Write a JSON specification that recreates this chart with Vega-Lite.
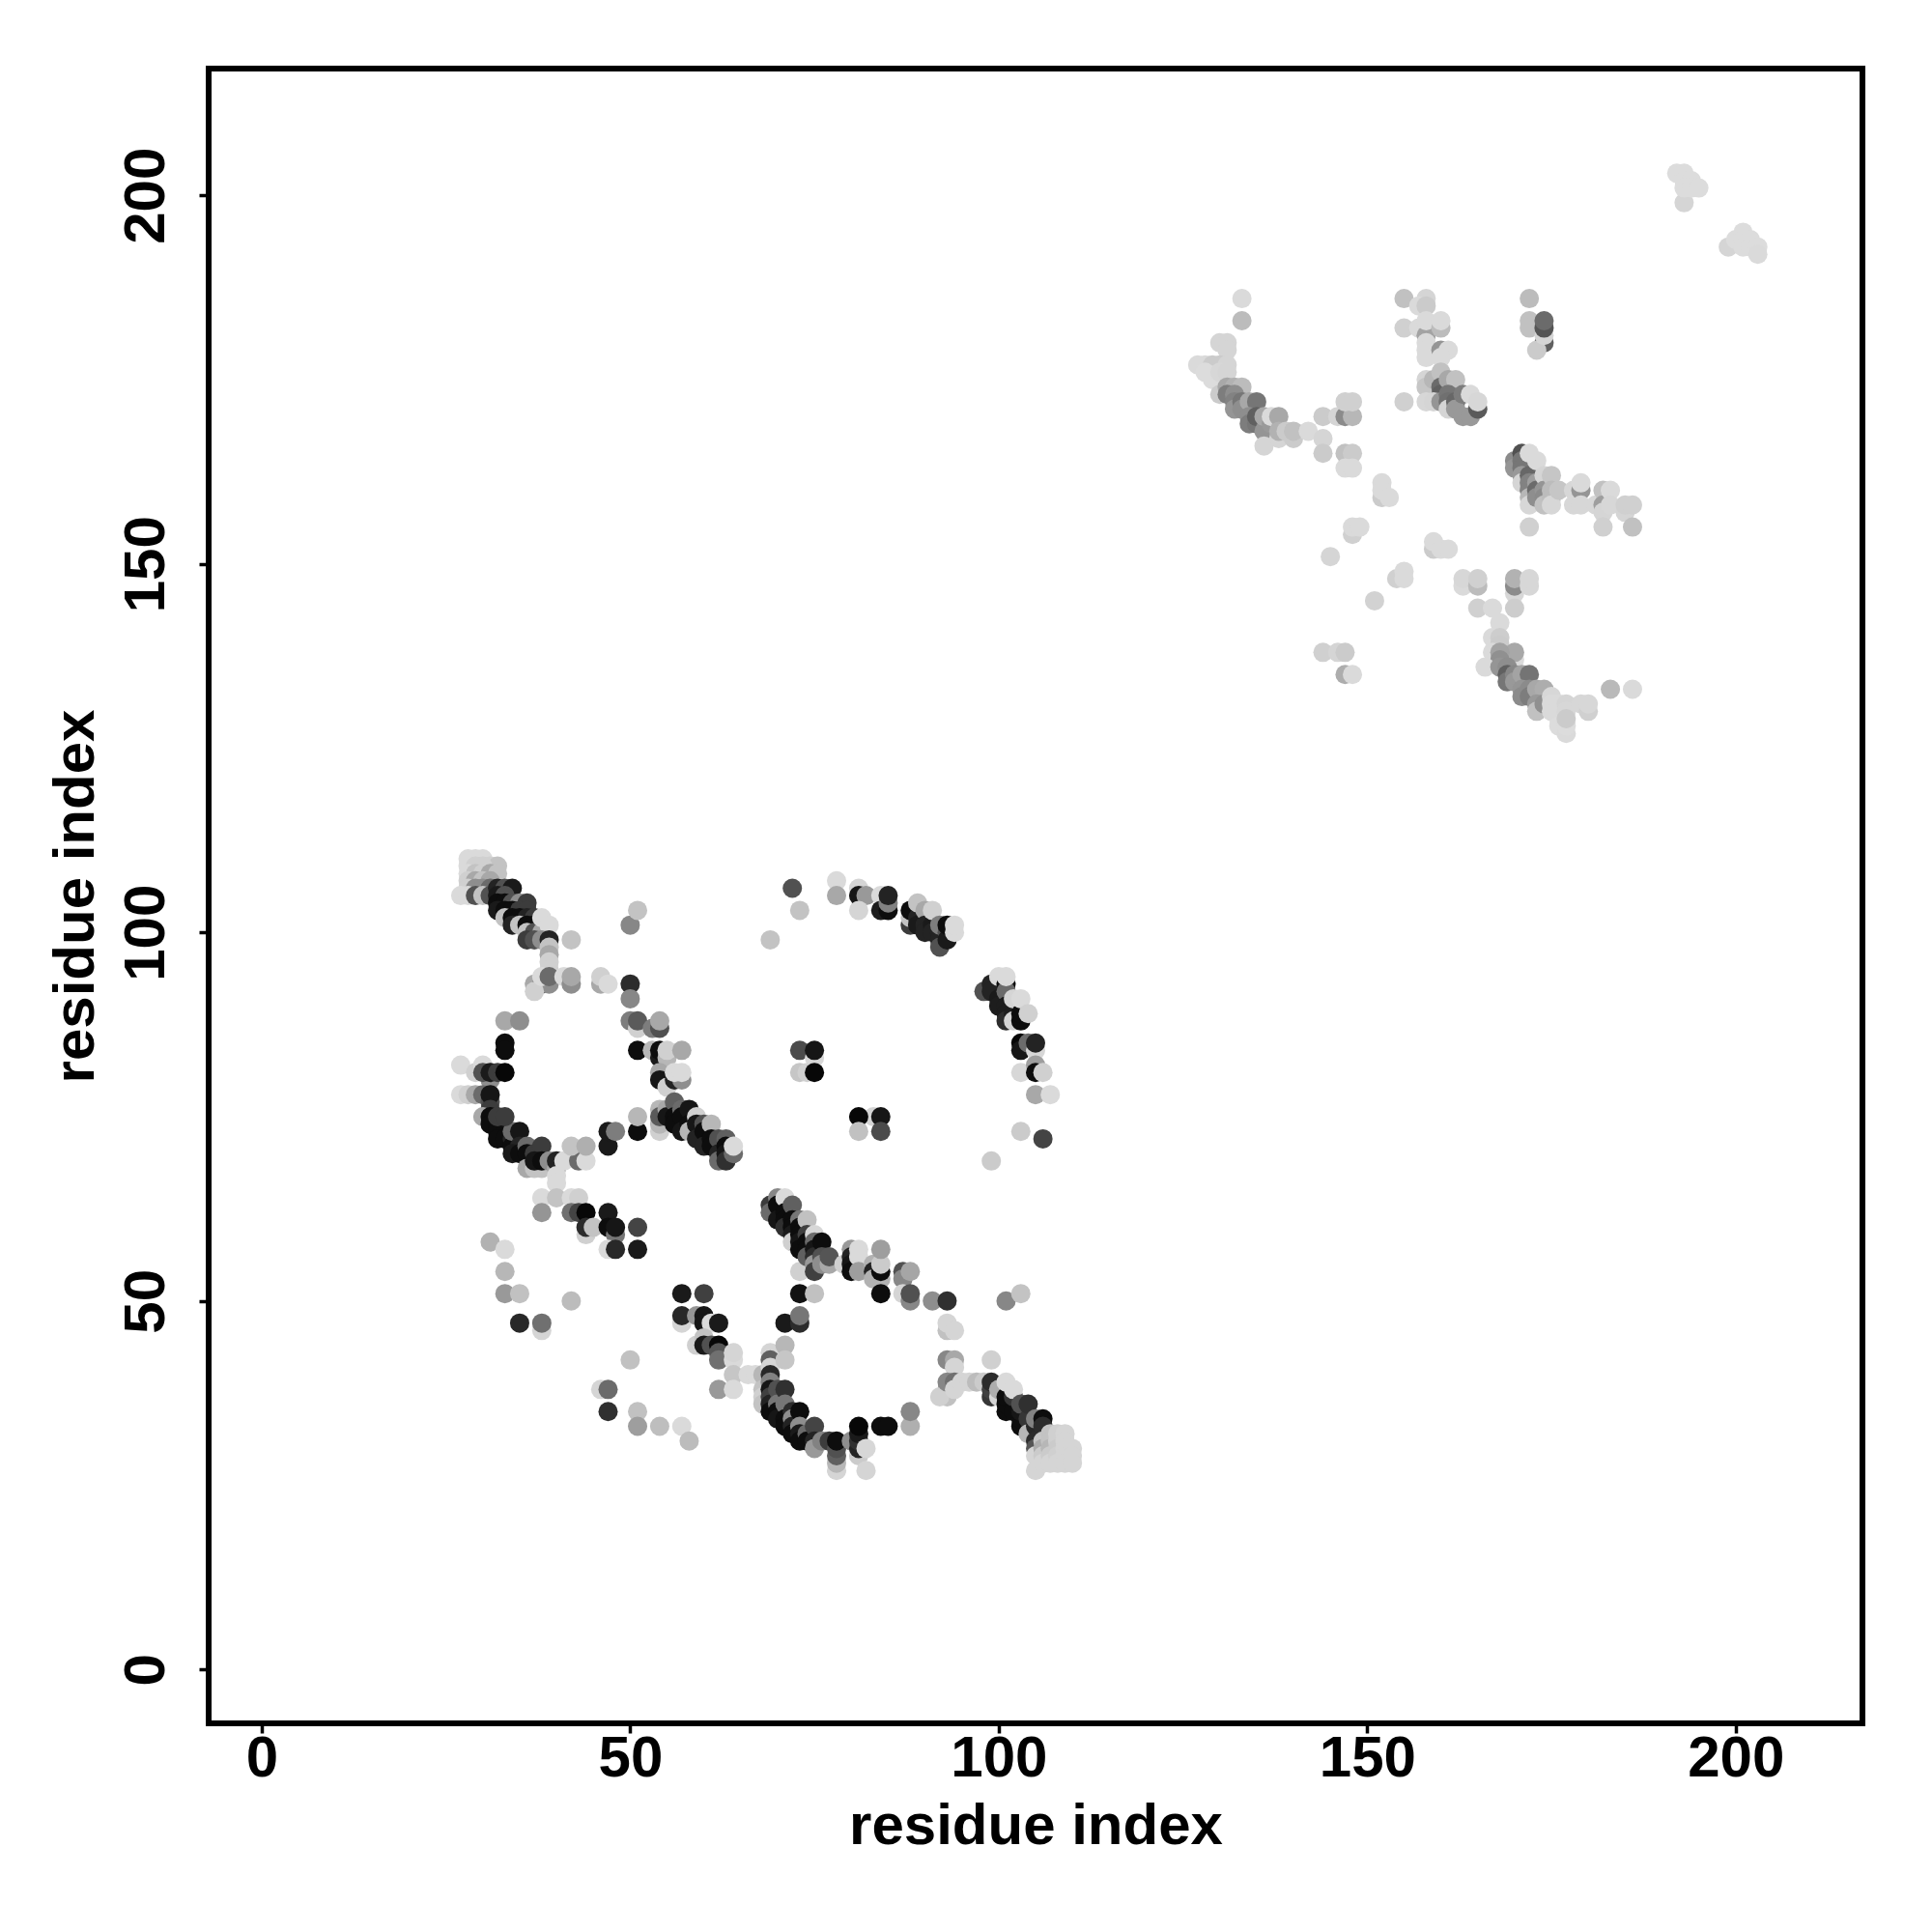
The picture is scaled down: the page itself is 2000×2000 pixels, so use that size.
{"$schema":"https://vega.github.io/schema/vega-lite/v6.json","width":1712,"height":1713,"autosize":{"type":"none"},"padding":{"left":216,"top":71,"right":72,"bottom":216},"background":"white","config":{"view":{"stroke":"black","strokeWidth":6,"fill":"white"}},"data":{"values":[
{"x":28,"y":110,"v":4},{"x":29,"y":110,"v":4},{"x":30,"y":110,"v":4},{"x":31,"y":109,"v":8},{"x":32,"y":109,"v":13},{"x":28,"y":109,"v":4},{"x":29,"y":109,"v":8},{"x":30,"y":109,"v":8},{"x":28,"y":108,"v":4},{"x":29,"y":108,"v":13},{"x":30,"y":108,"v":8},{"x":31,"y":108,"v":24},{"x":32,"y":108,"v":13},{"x":28,"y":107,"v":8},{"x":29,"y":107,"v":24},{"x":30,"y":107,"v":13},{"x":31,"y":107,"v":24},{"x":28,"y":106,"v":8},{"x":29,"y":106,"v":35},{"x":30,"y":106,"v":35},{"x":31,"y":106,"v":50},{"x":27,"y":105,"v":4},{"x":28,"y":105,"v":4},{"x":29,"y":105,"v":62},{"x":30,"y":105,"v":13},{"x":31,"y":105,"v":62},
{"x":32,"y":106,"v":85},{"x":33,"y":106,"v":62},{"x":34,"y":106,"v":90},{"x":32,"y":105,"v":90},{"x":33,"y":105,"v":62},{"x":32,"y":104,"v":96},{"x":33,"y":104,"v":96},{"x":34,"y":104,"v":62},{"x":35,"y":104,"v":35},{"x":36,"y":104,"v":72},{"x":32,"y":103,"v":90},{"x":33,"y":103,"v":96},{"x":34,"y":103,"v":96},{"x":35,"y":103,"v":72},{"x":36,"y":103,"v":72},{"x":33,"y":102,"v":13},{"x":34,"y":102,"v":96},{"x":35,"y":102,"v":96},{"x":36,"y":102,"v":85},{"x":37,"y":102,"v":72},{"x":34,"y":101,"v":85},{"x":35,"y":101,"v":13},{"x":36,"y":101,"v":96},{"x":37,"y":101,"v":96},{"x":36,"y":100,"v":13},{"x":37,"y":100,"v":62},{"x":38,"y":100,"v":24},{"x":38,"y":102,"v":4},{"x":39,"y":101,"v":4},{"x":36,"y":99,"v":72},{"x":37,"y":99,"v":62},{"x":38,"y":99,"v":35},{"x":39,"y":99,"v":85},{"x":42,"y":99,"v":13},{"x":39,"y":98,"v":13},{"x":39,"y":97,"v":24},{"x":39,"y":96,"v":8},{"x":39,"y":95,"v":8},{"x":37,"y":93,"v":24},{"x":38,"y":93,"v":50},{"x":39,"y":93,"v":35},{"x":37,"y":92,"v":8},{"x":38,"y":94,"v":4},{"x":39,"y":94,"v":50},{"x":41,"y":94,"v":4},{"x":42,"y":93,"v":35},{"x":42,"y":94,"v":24},{"x":46,"y":93,"v":24},{"x":46,"y":94,"v":8},{"x":47,"y":93,"v":4},
{"x":33,"y":88,"v":24},{"x":35,"y":88,"v":35},{"x":33,"y":85,"v":96},{"x":33,"y":84,"v":96},{"x":27,"y":82,"v":4},{"x":29,"y":81,"v":8},{"x":30,"y":82,"v":4},{"x":31,"y":80,"v":35},{"x":30,"y":81,"v":62},{"x":31,"y":81,"v":90},{"x":32,"y":81,"v":72},{"x":33,"y":81,"v":98},{"x":27,"y":78,"v":4},{"x":28,"y":78,"v":8},{"x":29,"y":78,"v":24},{"x":30,"y":78,"v":50},{"x":31,"y":77,"v":62},{"x":31,"y":78,"v":92},{"x":31,"y":76,"v":72},{"x":30,"y":75,"v":24},{"x":31,"y":75,"v":96},{"x":31,"y":74,"v":96},{"x":32,"y":74,"v":96},{"x":32,"y":73,"v":96},{"x":33,"y":73,"v":96},{"x":32,"y":72,"v":96},{"x":33,"y":72,"v":96},{"x":34,"y":72,"v":85},{"x":34,"y":71,"v":96},{"x":34,"y":73,"v":50},{"x":32,"y":75,"v":72},{"x":33,"y":75,"v":72},{"x":35,"y":73,"v":92},{"x":35,"y":71,"v":85},{"x":34,"y":70,"v":90},{"x":35,"y":70,"v":96},{"x":36,"y":71,"v":50},{"x":36,"y":70,"v":96},{"x":37,"y":70,"v":72},{"x":38,"y":71,"v":72},{"x":36,"y":68,"v":24},{"x":37,"y":68,"v":13},{"x":38,"y":68,"v":13},{"x":37,"y":69,"v":92},{"x":38,"y":69,"v":96},{"x":39,"y":69,"v":35},{"x":40,"y":68,"v":24},{"x":40,"y":69,"v":85},{"x":41,"y":69,"v":4},{"x":43,"y":69,"v":50},{"x":44,"y":69,"v":4},{"x":42,"y":71,"v":13},{"x":44,"y":71,"v":21},{"x":40,"y":67,"v":4},{"x":40,"y":66,"v":4},
{"x":47,"y":71,"v":90},{"x":47,"y":73,"v":90},{"x":48,"y":73,"v":42},{"x":51,"y":73,"v":96},{"x":51,"y":75,"v":18},{"x":54,"y":73,"v":8},
{"x":50,"y":93,"v":80},{"x":50,"y":91,"v":38},{"x":50,"y":101,"v":38},{"x":51,"y":103,"v":13},{"x":50,"y":88,"v":42},{"x":51,"y":87,"v":8},{"x":51,"y":88,"v":58},{"x":53,"y":87,"v":42},{"x":54,"y":87,"v":62},{"x":54,"y":88,"v":24},{"x":51,"y":84,"v":96},{"x":53,"y":84,"v":18},{"x":54,"y":83,"v":90},{"x":54,"y":84,"v":96},{"x":55,"y":83,"v":18},{"x":55,"y":84,"v":8},{"x":57,"y":84,"v":24},{"x":54,"y":81,"v":24},{"x":54,"y":80,"v":92},{"x":55,"y":79,"v":8},{"x":56,"y":80,"v":85},{"x":57,"y":80,"v":35},{"x":56,"y":81,"v":4},{"x":57,"y":81,"v":4},
{"x":54,"y":76,"v":18},{"x":54,"y":74,"v":18},{"x":54,"y":75,"v":58},{"x":55,"y":76,"v":24},{"x":55,"y":75,"v":92},{"x":56,"y":77,"v":55},{"x":56,"y":75,"v":96},{"x":56,"y":74,"v":96},{"x":57,"y":76,"v":50},{"x":57,"y":75,"v":96},{"x":57,"y":73,"v":92},{"x":58,"y":76,"v":92},{"x":58,"y":74,"v":96},{"x":58,"y":73,"v":18},{"x":59,"y":75,"v":8},{"x":59,"y":74,"v":92},{"x":59,"y":72,"v":85},{"x":60,"y":74,"v":62},{"x":60,"y":73,"v":96},{"x":60,"y":71,"v":85},{"x":61,"y":74,"v":18},{"x":61,"y":72,"v":96},{"x":61,"y":71,"v":96},{"x":62,"y":72,"v":62},{"x":62,"y":70,"v":85},{"x":62,"y":69,"v":50},{"x":63,"y":72,"v":55},{"x":63,"y":71,"v":96},{"x":63,"y":70,"v":92},{"x":63,"y":69,"v":78},{"x":64,"y":70,"v":50},{"x":64,"y":71,"v":4},
{"x":38,"y":64,"v":4},{"x":40,"y":64,"v":13},{"x":42,"y":64,"v":4},{"x":43,"y":64,"v":8},{"x":38,"y":62,"v":32},{"x":42,"y":62,"v":48},{"x":43,"y":62,"v":68},{"x":44,"y":62,"v":98},{"x":47,"y":62,"v":90},{"x":44,"y":59,"v":8},{"x":44,"y":60,"v":80},{"x":45,"y":60,"v":13},{"x":47,"y":60,"v":96},{"x":48,"y":59,"v":45},{"x":48,"y":60,"v":92},{"x":51,"y":60,"v":68},{"x":47,"y":57,"v":4},{"x":48,"y":57,"v":82},{"x":51,"y":57,"v":90},{"x":31,"y":58,"v":20},{"x":33,"y":57,"v":4},{"x":33,"y":54,"v":18},{"x":33,"y":51,"v":30},{"x":35,"y":51,"v":14},{"x":42,"y":50,"v":16},{"x":35,"y":47,"v":82},{"x":38,"y":46,"v":6},{"x":38,"y":47,"v":48},{"x":50,"y":42,"v":14},{"x":46,"y":38,"v":6},{"x":47,"y":38,"v":50},{"x":47,"y":35,"v":78},{"x":51,"y":35,"v":14},{"x":51,"y":33,"v":28},{"x":54,"y":33,"v":15},{"x":57,"y":33,"v":4},{"x":58,"y":31,"v":16},
{"x":57,"y":51,"v":90},{"x":60,"y":51,"v":70},{"x":57,"y":47,"v":6},{"x":57,"y":48,"v":82},{"x":59,"y":48,"v":32},{"x":60,"y":48,"v":92},{"x":60,"y":47,"v":92},{"x":61,"y":47,"v":4},{"x":62,"y":47,"v":90},{"x":59,"y":44,"v":8},{"x":60,"y":45,"v":13},{"x":60,"y":44,"v":90},{"x":61,"y":44,"v":62},{"x":62,"y":44,"v":98},{"x":62,"y":43,"v":60},{"x":62,"y":42,"v":48},{"x":64,"y":42,"v":4},{"x":64,"y":43,"v":6},{"x":64,"y":40,"v":12},{"x":66,"y":40,"v":4},{"x":67,"y":40,"v":4},{"x":62,"y":38,"v":30},{"x":64,"y":38,"v":4},
{"x":68,"y":40,"v":18},{"x":68,"y":38,"v":13},{"x":68,"y":37,"v":8},{"x":68,"y":36,"v":13},{"x":69,"y":43,"v":6},{"x":69,"y":42,"v":55},{"x":69,"y":41,"v":6},{"x":69,"y":40,"v":82},{"x":69,"y":39,"v":40},{"x":69,"y":38,"v":92},{"x":69,"y":37,"v":70},{"x":69,"y":36,"v":85},{"x":69,"y":35,"v":96},{"x":70,"y":38,"v":62},{"x":70,"y":36,"v":45},{"x":70,"y":35,"v":96},{"x":70,"y":34,"v":92},{"x":71,"y":38,"v":78},{"x":71,"y":36,"v":45},{"x":71,"y":34,"v":96},{"x":71,"y":33,"v":96},{"x":72,"y":35,"v":80},{"x":72,"y":34,"v":35},{"x":72,"y":33,"v":85},{"x":72,"y":32,"v":96},{"x":73,"y":35,"v":96},{"x":73,"y":33,"v":35},{"x":73,"y":32,"v":90},{"x":73,"y":31,"v":96},{"x":74,"y":32,"v":50},{"x":74,"y":31,"v":96},{"x":75,"y":33,"v":68},{"x":75,"y":31,"v":85},{"x":75,"y":30,"v":30},{"x":76,"y":31,"v":40},{"x":77,"y":31,"v":72},{"x":78,"y":27,"v":6},{"x":78,"y":28,"v":18},{"x":78,"y":29,"v":55},{"x":78,"y":30,"v":62},{"x":78,"y":31,"v":96},{"x":80,"y":31,"v":35},{"x":81,"y":29,"v":10},{"x":81,"y":30,"v":85},{"x":81,"y":31,"v":78},{"x":81,"y":32,"v":90},{"x":81,"y":33,"v":98},{"x":82,"y":27,"v":6},{"x":82,"y":30,"v":5},{"x":84,"y":33,"v":96},{"x":85,"y":33,"v":96},{"x":88,"y":33,"v":21},{"x":88,"y":35,"v":38},
{"x":71,"y":44,"v":18},{"x":71,"y":42,"v":12},{"x":71,"y":47,"v":90},{"x":73,"y":47,"v":80},{"x":73,"y":48,"v":45},{"x":73,"y":51,"v":94},{"x":75,"y":51,"v":14},{"x":73,"y":54,"v":8},
{"x":69,"y":63,"v":72},{"x":69,"y":62,"v":50},{"x":70,"y":64,"v":38},{"x":70,"y":63,"v":96},{"x":71,"y":64,"v":4},{"x":70,"y":61,"v":92},{"x":71,"y":62,"v":96},{"x":71,"y":61,"v":96},{"x":71,"y":60,"v":78},{"x":72,"y":63,"v":55},{"x":72,"y":61,"v":96},{"x":72,"y":60,"v":96},{"x":72,"y":59,"v":90},{"x":72,"y":58,"v":8},{"x":73,"y":61,"v":45},{"x":73,"y":60,"v":96},{"x":73,"y":59,"v":96},{"x":73,"y":58,"v":92},{"x":73,"y":57,"v":96},{"x":74,"y":61,"v":14},{"x":74,"y":59,"v":70},{"x":74,"y":58,"v":96},{"x":74,"y":57,"v":96},{"x":74,"y":56,"v":55},{"x":75,"y":59,"v":5},{"x":75,"y":58,"v":50},{"x":75,"y":57,"v":92},{"x":75,"y":56,"v":80},{"x":75,"y":55,"v":30},{"x":75,"y":54,"v":70},{"x":76,"y":58,"v":96},{"x":76,"y":56,"v":62},{"x":76,"y":55,"v":35},{"x":77,"y":55,"v":24},{"x":77,"y":56,"v":60},{"x":79,"y":55,"v":8},
{"x":80,"y":57,"v":30},{"x":80,"y":56,"v":85},{"x":80,"y":55,"v":92},{"x":80,"y":54,"v":96},{"x":81,"y":57,"v":4},{"x":81,"y":56,"v":4},{"x":81,"y":54,"v":28},{"x":83,"y":55,"v":20},{"x":83,"y":54,"v":85},{"x":83,"y":53,"v":20},{"x":84,"y":53,"v":20},{"x":84,"y":54,"v":96},{"x":84,"y":55,"v":10},{"x":84,"y":57,"v":28},{"x":84,"y":51,"v":96},{"x":87,"y":54,"v":62},{"x":87,"y":53,"v":38},{"x":88,"y":54,"v":25},{"x":87,"y":51,"v":6},{"x":88,"y":50,"v":38},{"x":88,"y":51,"v":62},{"x":91,"y":50,"v":35},{"x":93,"y":50,"v":78},{"x":101,"y":50,"v":38},{"x":103,"y":51,"v":13},
{"x":93,"y":46,"v":14},{"x":93,"y":47,"v":6},{"x":94,"y":46,"v":6},{"x":93,"y":42,"v":38},{"x":94,"y":42,"v":24},{"x":94,"y":41,"v":6},{"x":93,"y":38,"v":30},{"x":93,"y":37,"v":14},{"x":92,"y":37,"v":8},{"x":93,"y":39,"v":38},{"x":94,"y":39,"v":48},{"x":94,"y":38,"v":6},{"x":95,"y":39,"v":6},{"x":96,"y":39,"v":6},{"x":97,"y":39,"v":16},{"x":98,"y":39,"v":10},{"x":99,"y":42,"v":8},{"x":99,"y":37,"v":75},{"x":99,"y":38,"v":70},{"x":99,"y":39,"v":80},{"x":100,"y":37,"v":6},{"x":100,"y":38,"v":22},{"x":101,"y":35,"v":96},{"x":101,"y":36,"v":96},{"x":101,"y":37,"v":96},{"x":101,"y":39,"v":4},{"x":102,"y":35,"v":96},{"x":102,"y":37,"v":75},{"x":102,"y":38,"v":4},{"x":103,"y":33,"v":96},{"x":103,"y":34,"v":96},{"x":103,"y":35,"v":92},{"x":103,"y":36,"v":62},{"x":104,"y":34,"v":75},{"x":104,"y":36,"v":78},{"x":104,"y":32,"v":18},{"x":105,"y":33,"v":82},{"x":105,"y":34,"v":40},{"x":105,"y":31,"v":80},{"x":105,"y":30,"v":60},{"x":105,"y":29,"v":6},{"x":105,"y":27,"v":6},{"x":106,"y":34,"v":96},{"x":106,"y":33,"v":80},
{"x":106,"y":31,"v":12},{"x":106,"y":30,"v":22},{"x":106,"y":29,"v":10},{"x":106,"y":28,"v":6},{"x":107,"y":32,"v":13},{"x":107,"y":31,"v":13},{"x":107,"y":30,"v":18},{"x":107,"y":29,"v":10},{"x":107,"y":28,"v":6},{"x":108,"y":32,"v":8},{"x":108,"y":31,"v":8},{"x":108,"y":30,"v":10},{"x":108,"y":29,"v":8},{"x":108,"y":28,"v":6},{"x":109,"y":32,"v":6},{"x":109,"y":31,"v":6},{"x":109,"y":30,"v":6},{"x":109,"y":29,"v":6},{"x":109,"y":28,"v":6},{"x":110,"y":30,"v":6},{"x":110,"y":29,"v":6},{"x":110,"y":28,"v":6},
{"x":72,"y":106,"v":62},{"x":73,"y":103,"v":13},{"x":69,"y":99,"v":13},{"x":78,"y":107,"v":4},{"x":78,"y":105,"v":24},{"x":81,"y":106,"v":6},{"x":81,"y":105,"v":92},{"x":82,"y":105,"v":30},{"x":81,"y":103,"v":6},{"x":84,"y":105,"v":4},{"x":84,"y":103,"v":88},{"x":85,"y":103,"v":96},{"x":85,"y":104,"v":40},{"x":85,"y":105,"v":85},{"x":88,"y":101,"v":72},{"x":88,"y":102,"v":13},{"x":88,"y":103,"v":96},{"x":89,"y":102,"v":85},{"x":89,"y":101,"v":90},{"x":89,"y":104,"v":13},{"x":90,"y":103,"v":24},{"x":90,"y":101,"v":85},{"x":90,"y":100,"v":85},{"x":91,"y":101,"v":90},{"x":91,"y":100,"v":85},{"x":91,"y":103,"v":8},{"x":92,"y":100,"v":85},{"x":92,"y":99,"v":85},{"x":92,"y":98,"v":62},{"x":92,"y":101,"v":42},{"x":93,"y":100,"v":62},{"x":93,"y":99,"v":90},{"x":93,"y":101,"v":96},{"x":94,"y":100,"v":4},{"x":94,"y":101,"v":4},
{"x":98,"y":92,"v":62},{"x":99,"y":93,"v":85},{"x":99,"y":92,"v":85},{"x":100,"y":91,"v":90},{"x":100,"y":90,"v":88},{"x":100,"y":94,"v":4},{"x":101,"y":93,"v":96},{"x":101,"y":92,"v":50},{"x":101,"y":90,"v":88},{"x":101,"y":89,"v":88},{"x":101,"y":88,"v":80},{"x":101,"y":94,"v":4},{"x":102,"y":90,"v":88},{"x":102,"y":89,"v":88},{"x":102,"y":88,"v":6},{"x":102,"y":91,"v":6},{"x":103,"y":88,"v":96},{"x":103,"y":89,"v":96},{"x":103,"y":91,"v":4},{"x":104,"y":89,"v":8},{"x":103,"y":85,"v":98},{"x":103,"y":84,"v":92},{"x":104,"y":85,"v":50},{"x":105,"y":84,"v":5},{"x":105,"y":85,"v":85},{"x":103,"y":81,"v":5},{"x":105,"y":82,"v":28},{"x":105,"y":81,"v":96},{"x":106,"y":81,"v":8},{"x":105,"y":78,"v":24},{"x":107,"y":78,"v":4},{"x":103,"y":73,"v":10},{"x":106,"y":72,"v":68},{"x":99,"y":69,"v":10},
{"x":73,"y":84,"v":65},{"x":75,"y":83,"v":5},{"x":75,"y":84,"v":92},{"x":73,"y":81,"v":12},{"x":74,"y":81,"v":8},{"x":75,"y":81,"v":98},{"x":83,"y":75,"v":6},{"x":81,"y":75,"v":98},{"x":84,"y":75,"v":92},{"x":81,"y":73,"v":14},{"x":84,"y":73,"v":65},
{"x":133,"y":186,"v":4},{"x":133,"y":183,"v":16},{"x":130,"y":180,"v":6},{"x":131,"y":180,"v":6},{"x":131,"y":179,"v":6},{"x":127,"y":177,"v":4},{"x":128,"y":177,"v":4},{"x":129,"y":177,"v":10},{"x":130,"y":177,"v":10},{"x":131,"y":177,"v":6},{"x":128,"y":176,"v":3},{"x":129,"y":175,"v":3},{"x":130,"y":176,"v":5},{"x":131,"y":176,"v":6},{"x":130,"y":173,"v":10},{"x":131,"y":174,"v":24},{"x":132,"y":174,"v":20},{"x":133,"y":174,"v":16},{"x":131,"y":173,"v":42},{"x":132,"y":173,"v":35},{"x":132,"y":172,"v":40},{"x":132,"y":171,"v":32},{"x":133,"y":172,"v":45},{"x":133,"y":171,"v":35},{"x":134,"y":172,"v":24},{"x":135,"y":172,"v":45},{"x":134,"y":170,"v":35},{"x":134,"y":169,"v":42},{"x":135,"y":169,"v":45},{"x":135,"y":170,"v":55},{"x":136,"y":168,"v":32},{"x":136,"y":170,"v":24},{"x":136,"y":166,"v":6},{"x":137,"y":169,"v":30},{"x":137,"y":170,"v":4},{"x":138,"y":170,"v":24},{"x":138,"y":167,"v":6},{"x":138,"y":168,"v":20},{"x":139,"y":168,"v":10},{"x":140,"y":167,"v":10},{"x":140,"y":168,"v":14},{"x":142,"y":168,"v":4},{"x":144,"y":167,"v":6},{"x":144,"y":170,"v":10},{"x":144,"y":165,"v":10},{"x":146,"y":170,"v":6},{"x":147,"y":170,"v":36},{"x":148,"y":170,"v":18},{"x":147,"y":172,"v":8},{"x":148,"y":172,"v":8},{"x":147,"y":165,"v":14},{"x":148,"y":165,"v":10},{"x":147,"y":163,"v":4},{"x":148,"y":163,"v":4},{"x":152,"y":161,"v":4},{"x":152,"y":159,"v":10},{"x":152,"y":160,"v":4},{"x":153,"y":159,"v":4},{"x":148,"y":154,"v":8},{"x":148,"y":155,"v":4},{"x":149,"y":155,"v":4},{"x":145,"y":151,"v":6},{"x":159,"y":152,"v":10},{"x":159,"y":153,"v":4},{"x":160,"y":152,"v":4},{"x":161,"y":152,"v":4},
{"x":155,"y":186,"v":14},{"x":158,"y":186,"v":6},{"x":157,"y":185,"v":4},{"x":158,"y":185,"v":10},{"x":155,"y":182,"v":8},{"x":157,"y":182,"v":4},{"x":158,"y":181,"v":26},{"x":158,"y":183,"v":4},{"x":160,"y":182,"v":16},{"x":160,"y":183,"v":4},{"x":158,"y":180,"v":4},{"x":158,"y":179,"v":4},{"x":158,"y":178,"v":4},{"x":160,"y":179,"v":32},{"x":161,"y":179,"v":4},{"x":160,"y":178,"v":4},{"x":158,"y":175,"v":6},{"x":158,"y":174,"v":12},{"x":159,"y":175,"v":18},{"x":160,"y":176,"v":14},{"x":160,"y":174,"v":50},{"x":160,"y":173,"v":55},{"x":161,"y":175,"v":24},{"x":162,"y":175,"v":14},{"x":155,"y":172,"v":8},{"x":158,"y":172,"v":5},{"x":159,"y":172,"v":6},{"x":160,"y":172,"v":32},{"x":161,"y":173,"v":45},{"x":161,"y":172,"v":48},{"x":161,"y":171,"v":6},{"x":162,"y":172,"v":52},{"x":162,"y":171,"v":30},{"x":163,"y":170,"v":30},{"x":163,"y":173,"v":42},{"x":164,"y":170,"v":30},{"x":165,"y":171,"v":58},{"x":164,"y":173,"v":4},{"x":165,"y":172,"v":5},
{"x":172,"y":186,"v":16},{"x":172,"y":183,"v":14},{"x":172,"y":182,"v":14},{"x":174,"y":180,"v":55},{"x":173,"y":179,"v":10},{"x":174,"y":181,"v":6},{"x":174,"y":182,"v":60},{"x":174,"y":183,"v":50},
{"x":170,"y":164,"v":36},{"x":170,"y":163,"v":32},{"x":171,"y":165,"v":62},{"x":171,"y":164,"v":45},{"x":171,"y":163,"v":45},{"x":171,"y":162,"v":30},{"x":171,"y":161,"v":6},{"x":172,"y":165,"v":4},{"x":172,"y":162,"v":52},{"x":172,"y":161,"v":40},{"x":172,"y":160,"v":40},{"x":172,"y":159,"v":18},{"x":172,"y":158,"v":5},{"x":173,"y":164,"v":4},{"x":173,"y":161,"v":28},{"x":173,"y":160,"v":50},{"x":173,"y":159,"v":35},{"x":174,"y":162,"v":6},{"x":174,"y":160,"v":32},{"x":174,"y":159,"v":36},{"x":174,"y":158,"v":14},{"x":175,"y":162,"v":12},{"x":175,"y":160,"v":16},{"x":175,"y":159,"v":16},{"x":175,"y":158,"v":5},{"x":176,"y":160,"v":12},
{"x":178,"y":158,"v":5},{"x":178,"y":160,"v":5},{"x":179,"y":160,"v":32},{"x":179,"y":161,"v":4},{"x":179,"y":158,"v":5},{"x":181,"y":158,"v":5},{"x":182,"y":160,"v":14},{"x":182,"y":158,"v":28},{"x":182,"y":157,"v":6},{"x":183,"y":160,"v":4},{"x":183,"y":158,"v":5},{"x":185,"y":157,"v":6},{"x":185,"y":158,"v":8},{"x":186,"y":158,"v":8},{"x":182,"y":155,"v":8},{"x":186,"y":155,"v":14},{"x":172,"y":155,"v":8},
{"x":154,"y":148,"v":8},{"x":155,"y":149,"v":4},{"x":155,"y":148,"v":4},{"x":151,"y":145,"v":7},{"x":144,"y":138,"v":8},{"x":146,"y":138,"v":6},{"x":147,"y":138,"v":10},{"x":147,"y":135,"v":22},{"x":148,"y":135,"v":4},
{"x":163,"y":147,"v":4},{"x":163,"y":148,"v":5},{"x":165,"y":147,"v":16},{"x":165,"y":148,"v":8},{"x":170,"y":146,"v":5},{"x":170,"y":147,"v":36},{"x":170,"y":148,"v":20},{"x":172,"y":147,"v":5},{"x":172,"y":148,"v":5},{"x":165,"y":144,"v":8},{"x":167,"y":144,"v":4},{"x":170,"y":144,"v":9},{"x":168,"y":142,"v":4},{"x":167,"y":140,"v":4},{"x":168,"y":140,"v":9},{"x":168,"y":139,"v":10},{"x":167,"y":138,"v":4},{"x":170,"y":137,"v":4},{"x":170,"y":138,"v":24},{"x":168,"y":138,"v":26},{"x":168,"y":137,"v":34},{"x":166,"y":136,"v":4},{"x":168,"y":136,"v":32},{"x":169,"y":136,"v":35},{"x":169,"y":135,"v":55},{"x":169,"y":134,"v":45},{"x":170,"y":135,"v":38},{"x":170,"y":134,"v":30},{"x":171,"y":134,"v":30},{"x":171,"y":135,"v":26},{"x":172,"y":135,"v":46},{"x":171,"y":133,"v":32},{"x":171,"y":132,"v":36},{"x":172,"y":133,"v":36},{"x":172,"y":132,"v":42},{"x":173,"y":133,"v":24},{"x":174,"y":133,"v":22},{"x":173,"y":131,"v":30},{"x":173,"y":130,"v":14},{"x":174,"y":131,"v":34},{"x":175,"y":132,"v":5},{"x":175,"y":131,"v":4},{"x":175,"y":130,"v":4},{"x":176,"y":131,"v":4},{"x":176,"y":129,"v":4},{"x":176,"y":128,"v":3},{"x":177,"y":131,"v":6},{"x":177,"y":130,"v":5},{"x":177,"y":127,"v":4},{"x":177,"y":128,"v":3},{"x":177,"y":129,"v":10},{"x":179,"y":131,"v":5},{"x":180,"y":130,"v":8},{"x":180,"y":131,"v":5},{"x":183,"y":133,"v":17},{"x":186,"y":133,"v":4},
{"x":193,"y":199,"v":6},{"x":192,"y":203,"v":3},{"x":193,"y":203,"v":3},{"x":193,"y":202,"v":3},{"x":194,"y":202,"v":3},{"x":193,"y":201,"v":3},{"x":194,"y":201,"v":3},{"x":195,"y":201,"v":3},{"x":199,"y":193,"v":6},{"x":200,"y":194,"v":3},{"x":201,"y":195,"v":3},{"x":201,"y":194,"v":3},{"x":201,"y":193,"v":3},{"x":202,"y":194,"v":3},{"x":202,"y":193,"v":3},{"x":203,"y":193,"v":3},{"x":203,"y":192,"v":4}
]},
"mark":{"type":"point","filled":true,"opacity":1,"size":400},
"encoding":{
"x":{"field":"x","type":"quantitative","scale":{"domain":[-7.2,217.2],"nice":false,"zero":false},"axis":{"values":[0,50,100,150,200],"grid":false,"domain":false,"tickColor":"black","tickWidth":3.5,"tickSize":10,"labelFont":"Liberation Sans","labelFontWeight":"bold","labelFontSize":60,"labelColor":"black","labelPadding":-3,"labelFlush":false,"title":"residue index","titleFont":"Liberation Sans","titleFontWeight":"bold","titleFontSize":60,"titleColor":"black","titlePadding":11}},
"y":{"field":"y","type":"quantitative","scale":{"domain":[-7.3,217.2],"nice":false,"zero":false},"axis":{"values":[0,50,100,150,200],"grid":false,"domain":false,"tickColor":"black","tickWidth":3.5,"tickSize":10,"labelFont":"Liberation Sans","labelFontWeight":"bold","labelFontSize":60,"labelColor":"black","labelAngle":270,"labelAlign":"center","labelBaseline":"bottom","labelPadding":24,"labelFlush":false,"title":"residue index","titleFont":"Liberation Sans","titleFontWeight":"bold","titleFontSize":60,"titleColor":"black","titlePadding":12}},
"color":{"field":"v","type":"quantitative","legend":null,"scale":{"domain":[0,100],"range":["#e4e4e4","#000000"]}}
}}
